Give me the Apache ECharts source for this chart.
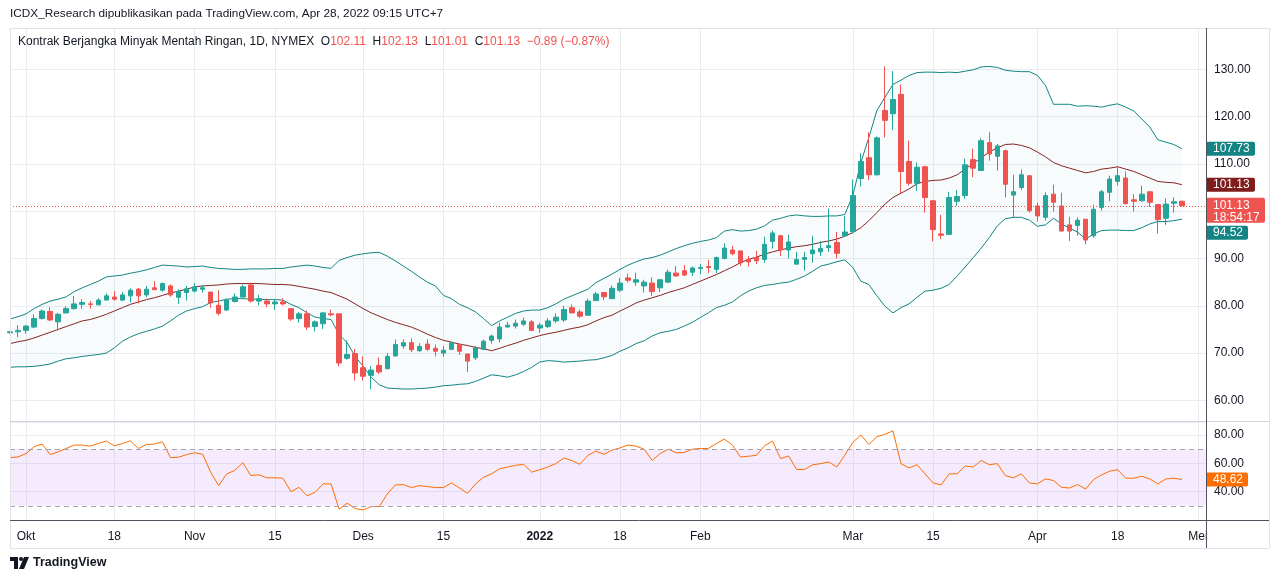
<!DOCTYPE html>
<html>
<head>
<meta charset="utf-8">
<script src="https://cdn.jsdelivr.net/npm/echarts@6.0.0/dist/echarts.min.js"></script>
<style>
html, body { margin: 0; padding: 0; background: #fff; }
#chart { width: 1280px; height: 581px; }
</style>
</head>
<body>
<div id="chart"></div>
<script>
// trading days: 29 Sep 2021 .. 3 May 2022, weekends and exchange holidays skipped
var holidays = ['2021-11-25', '2021-12-24', '2022-01-17', '2022-02-21', '2022-04-15'];
var tickLabels = {
  '2021-10-01': 'Okt', '2021-10-18': '18', '2021-11-01': 'Nov', '2021-11-15': '15',
  '2021-12-01': 'Des', '2021-12-15': '15', '2022-01-03': '2022', '2022-01-18': '18',
  '2022-02-01': 'Feb', '2022-03-01': 'Mar', '2022-03-15': '15', '2022-04-01': 'Apr',
  '2022-04-18': '18', '2022-05-02': 'Mei'
};

var opens = [74.3,74.5,74.8,75.5,77.3,78.8,76.6,78.5,79.4,80.3,80.4,80.2,81.2,81.85,81.2,82.1,83.5,82.3,83.8,83.3,
  84.2,81.8,82.8,83.1,83.5,82.9,80.1,79.1,80.9,81.85,84.4,81.0,81.0,80.4,80.8,79.4,77.3,78.3,75.6,76.2,
  78.3,78.3,68.9,69.9,66.9,65.3,67.4,66.7,69.4,71.5,72.2,70.5,71.9,71.0,70.0,70.8,71.8,69.8,69.0,70.8,
  72.7,73.0,75.5,75.7,76.1,76.6,75.3,75.6,76.8,77.0,79.6,78.7,78.0,81.1,82.8,81.5,83.3,85.9,85.0,84.2,
  84.8,83.8,85.0,86.9,87.4,87.1,87.9,88.3,87.7,90.0,91.8,91.6,89.8,90.2,89.8,93.6,94.8,91.8,88.8,89.8,
  91.0,91.4,92.3,93.4,94.8,95.7,106.9,111.3,107.7,121.3,120.6,124.7,110.5,105.9,109.4,102.2,95.2,95.1,102.1,103.3,
  110.9,108.6,114.5,111.6,112.8,103.4,105.0,107.5,101.1,98.7,103.6,101.1,97.1,97.0,98.3,94.8,100.8,104.0,106.3,107.0,
  102.4,102.2,104.1,101.4,98.5,101.7,102.11];
var highs = [74.7,75.9,75.9,78.2,79.2,79.7,78.5,79.9,82.1,81.4,81.0,81.6,82.6,83.1,82.9,83.7,83.8,84.2,85.2,84.9,
  84.5,83.5,84.2,84.8,84.4,82.9,83.3,81.5,82.6,84.5,84.9,82.3,81.5,81.4,81.6,79.4,78.7,79.0,76.9,78.7,
  79.2,78.3,72.7,70.9,69.3,67.2,69.1,70.0,72.9,72.9,73.1,72.1,72.9,71.8,71.5,72.5,72.0,69.8,71.5,72.9,
  73.9,76.4,76.6,77.1,77.5,77.0,76.4,77.4,78.4,80.0,80.3,79.2,81.5,82.9,82.9,84.3,85.9,86.8,87.0,85.5,
  86.0,85.7,87.7,88.4,88.6,88.3,88.8,89.7,90.4,93.2,92.7,91.6,90.5,91.6,94.6,95.9,95.0,95.0,91.4,91.4,
  94.8,93.7,100.6,95.6,99.0,106.7,112.3,116.7,115.8,130.6,129.6,126.8,114.9,110.3,109.6,102.4,99.2,104.1,104.5,111.1,
  113.2,115.4,116.7,114.2,113.0,107.7,108.8,107.5,101.8,104.0,105.6,103.9,98.8,98.7,98.3,101.4,104.5,107.5,109.4,108.4,
  103.6,105.4,104.1,101.5,102.7,102.9,102.13];
var lows = [74.1,73.4,74.1,75.3,77.1,76.8,74.8,78.4,79.2,79.4,79.4,80.1,81.2,81.1,81.0,80.7,80.5,81.8,83.4,83.0,
  81.9,80.4,81.1,82.8,82.8,79.6,78.0,78.9,80.7,81.7,80.7,80.1,79.7,79.1,80.1,76.8,76.4,74.9,74.6,75.1,
  77.8,67.2,68.6,64.2,64.2,62.4,65.6,66.6,69.3,70.9,70.2,70.2,70.5,69.3,69.2,70.6,69.6,66.0,68.5,70.6,
  72.0,72.3,75.5,75.2,75.7,74.8,74.3,75.3,76.4,76.6,78.4,77.4,78.0,81.0,81.2,81.5,82.9,84.9,84.2,82.8,
  82.1,82.9,84.8,86.2,86.3,86.3,86.7,86.9,86.9,89.8,90.7,88.4,88.3,88.8,89.1,92.1,90.5,90.0,88.8,87.4,
  89.1,90.5,91.4,90.0,94.6,95.3,105.2,106.6,107.5,115.6,117.1,103.8,105.4,104.3,99.7,93.6,94.1,94.9,101.1,102.6,
  107.2,108.5,110.7,108.6,102.9,98.7,104.5,99.7,97.8,98.0,99.9,95.7,93.7,94.8,93.0,94.4,100.1,102.1,105.4,101.4,
  99.9,102.0,100.9,95.3,97.1,99.7,101.01];
var closes = [74.5,74.8,75.7,77.3,78.9,77.0,78.2,79.4,80.4,80.7,80.3,81.2,82.1,81.4,82.3,83.3,82.1,83.5,83.4,84.7,
  82.3,83.0,83.6,84.0,83.8,80.6,78.4,81.2,81.85,84.0,81.0,81.5,80.4,80.8,80.4,77.2,78.3,75.5,76.6,78.5,
  78.1,67.9,69.7,65.8,65.1,66.4,66.0,69.3,71.8,72.2,70.7,71.4,70.8,70.4,70.6,72.2,70.4,68.3,71.1,72.5,
  73.6,75.5,75.9,76.3,76.8,74.8,75.9,76.8,77.6,79.2,78.5,77.8,81.0,82.5,81.9,83.7,84.8,85.4,85.5,85.0,
  83.0,85.5,87.1,86.3,86.5,88.0,88.1,88.1,90.2,92.2,91.0,89.1,89.3,89.5,93.0,95.4,91.8,93.5,89.8,90.2,
  91.8,92.1,92.7,91.1,95.6,103.3,110.5,107.7,115.5,119.2,123.6,108.4,105.9,109.3,102.9,96.1,94.9,102.9,103.1,109.8,
  109.1,114.9,112.1,113.8,105.7,104.1,107.7,100.1,99.0,103.3,101.9,95.8,95.8,98.1,93.9,100.4,104.1,106.8,107.5,101.6,
  102.1,103.6,101.9,98.2,101.5,102.0,101.13];

var bbUpper = [77.2,77.7,78.3,79.4,80.3,81.0,81.4,81.9,83.0,83.8,84.5,85.2,86.1,86.3,86.5,86.9,87.2,87.6,88.1,88.6,
  88.5,88.4,88.2,88.3,88.4,88.1,87.9,87.8,87.7,87.7,87.8,87.8,87.8,87.9,87.9,88.2,88.4,88.6,88.4,88.1,
  87.9,89.6,90.2,90.7,91.0,91.2,91.3,90.5,89.5,88.4,87.3,86.1,85.0,84.2,82.2,81.5,80.3,79.6,78.7,77.3,
  75.8,76.8,77.6,78.4,78.9,79.1,79.1,79.6,80.4,81.4,82.1,82.8,83.5,84.9,85.8,86.7,87.7,88.6,89.3,89.9,
  90.2,90.7,91.4,92.1,92.7,93.2,93.6,93.9,94.4,95.8,96.1,95.8,95.9,96.2,96.9,98.1,98.5,99.0,99.2,99.0,
  98.9,98.9,99.0,99.0,99.3,103.3,110.3,115.6,121.3,124.1,126.8,127.7,128.7,129.3,129.4,129.4,129.3,129.4,129.3,129.6,
  129.9,130.5,130.6,130.4,129.8,129.6,129.5,129.5,128.7,126.6,122.6,122.6,122.6,122.2,122.3,122.2,122.0,122.4,122.7,122.0,
  121.2,119.5,117.8,115.1,114.6,114.1,113.2];
var bbBasis = [72.0,72.4,72.7,73.2,73.8,74.4,75.0,75.6,76.2,76.8,77.1,77.6,78.2,78.9,79.6,80.3,80.8,81.3,81.7,82.2,
  82.7,83.1,83.5,84.0,84.2,84.3,84.4,84.6,84.7,84.7,84.7,84.7,84.6,84.5,84.5,84.4,84.1,83.8,83.5,83.1,
  82.8,82.1,81.4,80.4,79.4,78.5,77.8,77.1,76.5,76.0,75.5,74.8,74.0,73.3,72.7,72.3,71.9,71.6,71.2,70.9,
  70.5,71.0,71.6,72.1,72.7,73.2,73.7,74.1,74.4,74.8,75.2,75.5,76.0,76.8,77.5,78.0,78.9,79.7,80.6,81.2,
  81.7,82.2,82.8,83.3,83.8,84.5,85.2,85.9,86.6,87.4,88.2,89.1,89.8,90.3,90.9,91.4,91.8,92.2,92.5,92.7,
  93.0,93.4,93.7,94.1,94.7,95.5,96.5,98.0,99.7,101.5,102.9,103.8,104.7,105.8,106.3,106.5,106.6,107.0,107.7,108.9,
  110.1,111.3,112.5,113.4,114.1,114.2,113.9,113.4,112.5,111.5,110.3,109.6,109.1,108.6,108.1,108.4,108.9,109.1,109.4,108.9,
  108.4,107.7,107.0,106.3,106.1,106.0,105.6];
var bbLower = [67.0,67.1,67.1,67.2,67.4,67.7,68.3,68.8,69.0,69.3,69.5,69.7,70.0,71.1,72.5,73.4,74.1,74.6,75.1,75.7,
  76.8,78.0,78.9,79.4,79.8,80.7,81.0,81.4,81.5,81.5,81.4,81.4,81.3,81.3,81.2,80.3,79.6,78.5,77.6,77.3,
  77.1,73.9,72.2,69.3,67.2,64.9,63.3,62.6,62.5,62.4,62.4,62.5,62.6,62.8,63.1,63.2,63.4,63.5,64.0,64.7,
  65.4,65.2,64.9,65.4,66.1,67.0,68.1,68.4,68.3,68.1,68.2,68.3,68.5,68.6,69.0,69.5,70.4,71.1,72.0,72.6,
  73.6,74.3,74.6,75.0,75.7,76.5,77.5,78.5,79.6,80.1,80.8,82.1,83.1,83.8,84.3,84.5,84.8,85.0,85.6,86.3,
  87.3,88.4,88.8,89.3,89.7,88.1,85.2,84.5,82.1,79.9,78.5,79.6,80.4,81.8,83.1,83.3,83.7,84.5,86.3,88.2,
  90.2,92.2,94.4,96.9,98.4,98.7,98.7,98.1,96.8,97.1,98.5,97.3,96.4,95.6,94.1,95.2,95.9,96.0,96.0,95.9,
  95.9,96.5,97.3,97.8,97.8,98.0,98.3];

var rsi = [64.0,64.5,66.9,71.7,73.6,66.2,68.1,70.5,72.9,72.9,72.1,74.0,75.7,72.4,74.0,75.9,70.5,73.3,73.6,75.2,
  64.0,64.3,66.2,67.4,66.4,53.8,44.3,52.6,55.0,60.5,51.4,51.9,49.8,49.8,49.5,40.0,43.1,37.1,39.5,45.5,
  45.5,27.6,31.9,28.1,27.1,29.5,29.5,38.3,44.8,45.0,42.9,44.3,43.6,42.9,42.9,46.2,42.6,38.8,45.5,50.2,
  52.6,56.2,57.4,58.6,59.3,53.8,55.5,57.4,59.8,63.8,61.9,59.3,65.7,68.6,66.4,69.3,70.9,72.9,72.1,70.0,
  62.1,66.9,70.0,67.4,67.6,70.0,70.5,70.5,74.0,77.1,72.9,64.5,65.0,65.7,72.4,75.7,63.3,65.2,55.7,55.7,
  59.0,59.8,61.0,57.4,65.7,74.8,80.0,73.3,78.8,80.5,82.9,59.8,56.7,59.0,52.6,46.2,44.8,52.6,52.6,58.1,
  57.4,62.1,59.0,59.8,51.4,49.8,52.6,46.2,45.5,49.0,47.9,43.1,42.6,45.0,41.9,48.6,51.9,54.5,55.5,49.5,
  49.5,50.9,49.0,45.5,49.0,49.5,48.62];

// values shown on the price-scale tags
var tagUpper = '107.73', tagBasis = '101.13', tagLower = '94.52';
var lastClose = 101.13, countdown = '18:54:17', lastRsi = 48.62;

var dates = [];
var d = new Date(Date.UTC(2021, 8, 29));
var end = new Date(Date.UTC(2022, 4, 3));
while (d <= end) {
  var s = d.toISOString().slice(0, 10);
  var wd = d.getUTCDay();
  if (wd !== 0 && wd !== 6 && holidays.indexOf(s) === -1) dates.push(s);
  d.setUTCDate(d.getUTCDate() + 1);
}

var candles = [], bandWidth = [];
for (var i = 0; i < closes.length; i++) {
  candles.push([opens[i], closes[i], lows[i], highs[i]]);
  bandWidth.push(+(bbUpper[i] - bbLower[i]).toFixed(2));
}

var FONT = 'Liberation Sans, Arial, sans-serif';
var GRID = '#e9edf2';
var isTick = function (idx, val) { return tickLabels[val] !== undefined; };

var chartDom = document.getElementById('chart');
var myChart = echarts.init(chartDom);

var option = {
  animation: false,
  backgroundColor: '#ffffff',
  grid: [
    { left: 10, right: 74, top: 28, height: 393 },
    { left: 10, right: 74, top: 422, height: 98 }
  ],
  xAxis: [
    {
      type: 'category', gridIndex: 0, data: dates, boundaryGap: false,
      axisLine: { show: false }, axisTick: { show: false }, axisLabel: { show: false },
      splitLine: { show: true, interval: isTick, lineStyle: { color: GRID } }
    },
    {
      type: 'category', gridIndex: 1, data: dates, boundaryGap: false,
      axisLine: { show: false }, axisTick: { show: false },
      axisLabel: {
        interval: isTick, margin: 11, color: '#131722', fontSize: 12, fontFamily: FONT,
        formatter: function (v) {
          var t = tickLabels[v] || '';
          return t === '2022' ? '{b|2022}' : t;
        },
        rich: { b: { fontWeight: 'bold', fontSize: 12, fontFamily: FONT, color: '#131722' } }
      },
      splitLine: { show: true, interval: isTick, lineStyle: { color: GRID } }
    }
  ],
  yAxis: [
    {
      type: 'value', gridIndex: 0, position: 'right', min: 55.64, max: 138.73, splitNumber: 8,
      axisLine: { show: false }, axisTick: { show: false },
      axisLabel: {
        showMinLabel: false, showMaxLabel: false, margin: 8, color: '#131722', fontSize: 12, fontFamily: FONT,
        formatter: function (v) { return Math.abs(v / 10 - Math.round(v / 10)) < 1e-6 ? v.toFixed(2) : ''; }
      },
      splitLine: { lineStyle: { color: GRID } }
    },
    {
      type: 'value', gridIndex: 1, position: 'right', min: 20.03, max: 89.17, splitNumber: 3,
      axisLine: { show: false }, axisTick: { show: false },
      axisLabel: {
        showMinLabel: false, showMaxLabel: false, margin: 8, color: '#131722', fontSize: 12, fontFamily: FONT,
        formatter: function (v) { return Math.abs(v / 20 - Math.round(v / 20)) < 1e-6 ? v.toFixed(2) : ''; }
      },
      splitLine: { lineStyle: { color: GRID } }
    }
  ],
  series: [
    {
      name: 'bbBase', type: 'line', xAxisIndex: 0, yAxisIndex: 0, data: bbLower, stack: 'bb',
      symbol: 'none', silent: true, lineStyle: { opacity: 0 }, z: 1
    },
    {
      name: 'bbFill', type: 'line', xAxisIndex: 0, yAxisIndex: 0, data: bandWidth, stack: 'bb',
      symbol: 'none', silent: true, lineStyle: { opacity: 0 },
      areaStyle: { color: 'rgba(19, 132, 132, 0.05)' }, z: 1
    },
    {
      name: 'Upper', type: 'line', xAxisIndex: 0, yAxisIndex: 0, data: bbUpper, symbol: 'none',
      lineStyle: { color: '#138484', width: 1 }, z: 2
    },
    {
      name: 'Basis', type: 'line', xAxisIndex: 0, yAxisIndex: 0, data: bbBasis, symbol: 'none',
      lineStyle: { color: '#872323', width: 1 }, z: 2
    },
    {
      name: 'Lower', type: 'line', xAxisIndex: 0, yAxisIndex: 0, data: bbLower, symbol: 'none',
      lineStyle: { color: '#138484', width: 1 }, z: 2
    },
    {
      name: 'CL1!', type: 'candlestick', xAxisIndex: 0, yAxisIndex: 0, data: candles, barWidth: 5,
      itemStyle: { color: '#26a69a', color0: '#ef5350', borderColor: '#26a69a', borderColor0: '#ef5350', borderWidth: 1 },
      markLine: {
        silent: true, symbol: 'none', label: { show: false },
        lineStyle: { color: '#ef5350', type: [1, 2], width: 1 },
        data: [{ yAxis: lastClose }]
      },
      z: 5
    },
    {
      name: 'RSI', type: 'line', xAxisIndex: 1, yAxisIndex: 1, data: rsi, symbol: 'none',
      lineStyle: { color: '#ff6d00', width: 1 }, z: 3,
      markArea: {
        silent: true, itemStyle: { color: 'rgba(155, 60, 235, 0.1)' },
        data: [[{ yAxis: 30 }, { yAxis: 70 }]]
      },
      markLine: {
        silent: true, symbol: 'none', label: { show: false },
        lineStyle: { color: '#a3a6af', type: [5, 4], width: 1 },
        data: [{ yAxis: 70 }, { yAxis: 30 }]
      }
    }
  ]
};
myChart.setOption(option);

// tags on the price scale, placed where their lines end
var n = closes.length - 1;
var yU = myChart.convertToPixel({ yAxisIndex: 0 }, bbUpper[n]);
var yB = myChart.convertToPixel({ yAxisIndex: 0 }, bbBasis[n]);
var yC = myChart.convertToPixel({ yAxisIndex: 0 }, lastClose);
var yL = Math.max(myChart.convertToPixel({ yAxisIndex: 0 }, bbLower[n]), yC + 27);
var yR = myChart.convertToPixel({ yAxisIndex: 1 }, lastRsi);

function tag(y, txt, bg, w) {
  return [
    { type: 'rect', z: 100, shape: { x: 1207, y: y - 7, width: w, height: 14, r: [0, 2, 2, 0] }, style: { fill: bg } },
    { type: 'text', z: 101, style: { text: txt, x: 1213, y: y, fill: '#ffffff', font: '12px ' + FONT, verticalAlign: 'middle' } }
  ];
}

var g = [];
g.push({ type: 'rect', z: 90, shape: { x: 1207.5, y: 521, width: 61, height: 27 }, style: { fill: '#ffffff' } });
g.push({ type: 'line', z: 95, shape: { x1: 10, y1: 28.5, x2: 1269, y2: 28.5 }, style: { stroke: '#e0e3eb' } });
g.push({ type: 'line', z: 95, shape: { x1: 10.5, y1: 28, x2: 10.5, y2: 548 }, style: { stroke: '#e0e3eb' } });
g.push({ type: 'line', z: 95, shape: { x1: 1269.5, y1: 28, x2: 1269.5, y2: 548 }, style: { stroke: '#e0e3eb' } });
g.push({ type: 'line', z: 95, shape: { x1: 10, y1: 548.5, x2: 1269, y2: 548.5 }, style: { stroke: '#e0e3eb' } });
g.push({ type: 'line', z: 95, shape: { x1: 10, y1: 421.5, x2: 1269, y2: 421.5 }, style: { stroke: '#d1d4dc' } });
g.push({ type: 'line', z: 95, shape: { x1: 10, y1: 520.5, x2: 1269, y2: 520.5 }, style: { stroke: '#50535e' } });
g.push({ type: 'line', z: 95, shape: { x1: 1206.5, y1: 28, x2: 1206.5, y2: 548 }, style: { stroke: '#50535e' } });
g = g.concat(tag(yU, tagUpper, '#138484', 48));
g = g.concat(tag(yB, tagBasis, '#7f1d1d', 48));
g = g.concat(tag(yL, tagLower, '#138484', 41));
g = g.concat(tag(yR, lastRsi.toFixed(2), '#ff6d00', 41));
g.push({ type: 'rect', z: 100, shape: { x: 1207, y: yC - 8, width: 58, height: 25, r: [0, 2, 2, 0] }, style: { fill: '#ef5350' } });
g.push({ type: 'text', z: 101, style: { text: lastClose.toFixed(2), x: 1213, y: yC, fill: '#ffffff', font: '12px ' + FONT, verticalAlign: 'middle' } });
g.push({ type: 'text', z: 101, style: { text: countdown, x: 1213, y: yC + 12, fill: '#ffffff', font: '12px ' + FONT, verticalAlign: 'middle' } });

// header, legend and footer
g.push({ type: 'text', z: 101, style: {
  text: 'ICDX_Research dipublikasikan pada TradingView.com, Apr 28, 2022 09:15 UTC+7',
  x: 10, y: 14, fill: '#131722', font: '11.8px ' + FONT, verticalAlign: 'middle' } });
g.push({ type: 'text', z: 101, style: {
  text: '{n|Kontrak Berjangka Minyak Mentah Ringan, 1D, NYMEX}  {k|O}{v|102.11}  {k|H}{v|102.13}  {k|L}{v|101.01}  {k|C}{v|101.13}  {v|\u22120.89 (\u22120.87%)}',
  x: 18, y: 42, verticalAlign: 'middle',
  rich: {
    n: { fill: '#131722', font: '12px ' + FONT },
    k: { fill: '#131722', font: '12px ' + FONT },
    v: { fill: '#ef5350', font: '12px ' + FONT }
  } } });
g.push({ type: 'polygon', z: 101, shape: { points: [[10, 557], [18, 557], [18, 569], [14, 569], [14, 561], [10, 561]] }, style: { fill: '#131722' } });
g.push({ type: 'circle', z: 101, shape: { cx: 21, cy: 559, r: 2 }, style: { fill: '#131722' } });
g.push({ type: 'polygon', z: 101, shape: { points: [[24, 557], [29, 557], [24, 569], [19, 569]] }, style: { fill: '#131722' } });
g.push({ type: 'text', z: 101, style: { text: 'TradingView', x: 33, y: 563, fill: '#131722', font: '600 12.5px ' + FONT, verticalAlign: 'middle' } });

myChart.setOption({ graphic: { elements: g } });
</script>
</body>
</html>
